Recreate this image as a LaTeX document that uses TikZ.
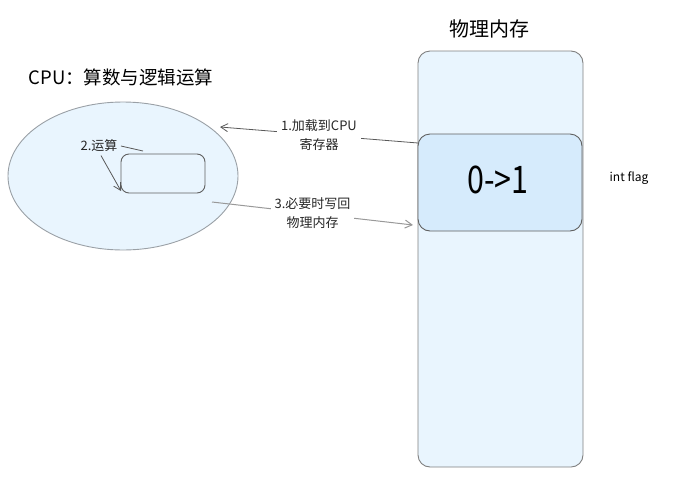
\documentclass[tikz,border=0pt]{standalone}
\usepackage{fontspec}
\setmainfont{Noto Sans CJK SC}
\usetikzlibrary{arrows.meta}
\definecolor{fillA}{HTML}{E9F5FE}
\definecolor{fillB}{HTML}{D6EBFC}
\definecolor{strokeA}{HTML}{9AA0A6}
\definecolor{strokeB}{HTML}{606060}
\tikzset{
  shapebox/.style={draw=strokeB, line width=0.9pt, rounded corners=12pt},
  lbl/.style={font=\fontsize{13}{19}\selectfont, align=center, text=black!85},
  arrA/.style={draw=black!65, line width=0.8pt, -{Straight Barb[length=7pt,width=8pt]}},
  arrB/.style={draw=black!40, line width=1pt, -{Straight Barb[length=7pt,width=8pt]}},
}
\begin{document}
\begin{tikzpicture}[x=1pt,y=-1pt]
\useasboundingbox (0,0) rectangle (674,488);
% memory
\draw[shapebox, fill=fillA, draw=black!50] (418,51) rectangle (583,467);
\node[font=\fontsize{20}{22}\selectfont] (memtitle) at (489,29) {物理内存};
\draw[shapebox, fill=fillB] (418,134) rectangle (582,231);
\node[font=\fontsize{38}{40}\selectfont, xscale=0.8] (val) at (498,180) {0->1};
\node (memin) at (500,182.5) [minimum width=164pt, minimum height=97pt] {};
\node[font=\fontsize{12}{14}\selectfont] (flag) at (629,178) {int flag};
% cpu
\node[font=\fontsize{18.5}{20}\selectfont, anchor=west] (cputitle) at (25,77) {CPU：算数与逻辑运算};
\draw[draw=strokeA, line width=0.9pt, fill=fillA] (123,176) ellipse [x radius=115, y radius=74];
\node (cpu) at (123,176) {};
\draw[shapebox, rounded corners=8pt] (121,154) rectangle (205,193);
\node (reg) at (163,173.5) [minimum width=84pt, minimum height=39pt] {};
% arrows
\coordinate (a1s) at (418,143);
\coordinate (a1e) at (220,127);
\draw[arrA] (a1s) -- node[lbl, fill=white, inner sep=4pt] (l1) {1.加载到CPU\\寄存器} (a1e);
\node[lbl] (l2) at (99,146) {2.运算};
\coordinate (a2s) at (143,151);
\coordinate (a2e) at (121,191);
\draw[draw=black!65, line width=0.8pt] (a2s) -- (l2.east);
\draw[arrA] ([xshift=2pt]l2.south) -- (a2e);
\coordinate (a3s) at (212,202);
\coordinate (a3e) at (413,225);
\draw[arrB] (a3s) -- node[lbl, fill=white, inner sep=4pt] (l3) {3.必要时写回\\物理内存} (a3e);
\end{tikzpicture}
\end{document}
